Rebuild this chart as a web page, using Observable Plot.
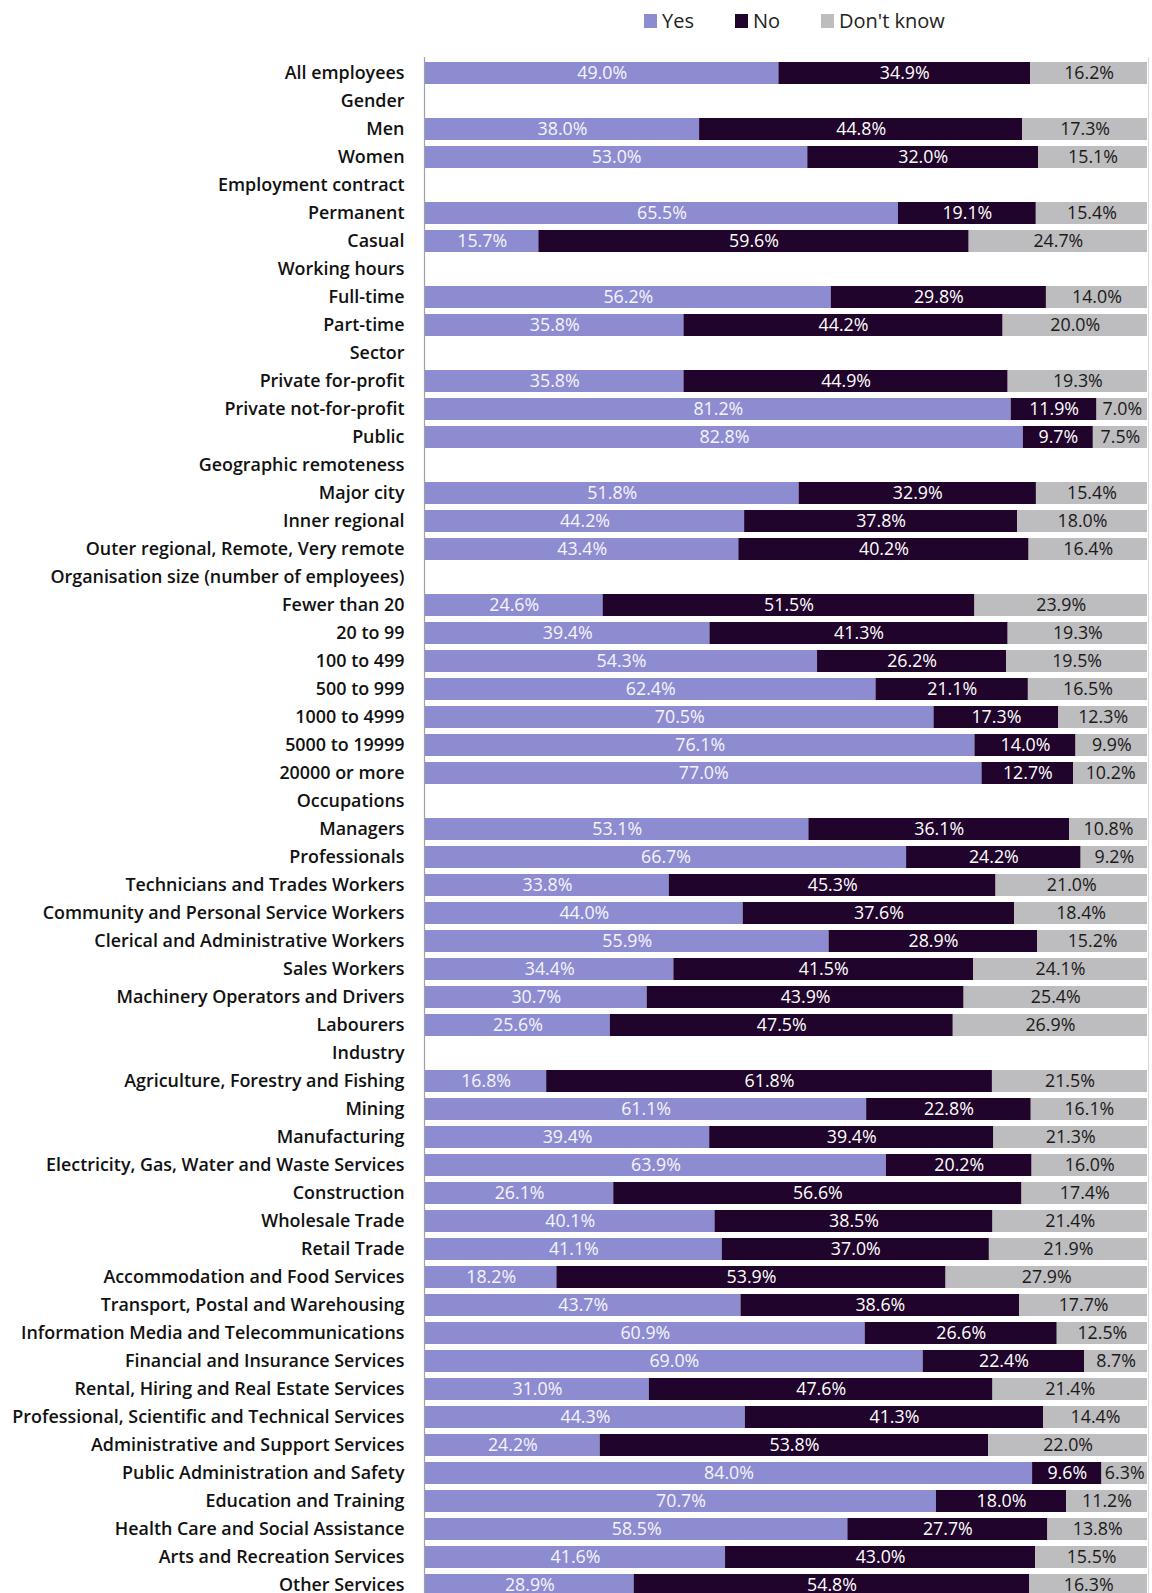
<!DOCTYPE html>
<html>
<head>
<meta charset="utf-8">
<script src="https://cdn.jsdelivr.net/npm/d3@7"></script>
<script src="https://cdn.jsdelivr.net/npm/@observablehq/plot@0.6"></script>
<style>
  html, body { margin: 0; padding: 0; background: #fff; }
  #wrap { width: 1152px; height: 1593px; overflow: hidden; position: relative; }
  #legend { height: 41px; position: relative; font-family: "Open Sans", sans-serif; font-size: 20px; color: #222; }
  .lgi { position: absolute; top: 0; height: 41px; display: inline-flex; align-items: center; white-space: nowrap; }
  .lgi span.sw { display: inline-block; width: 13px; height: 14px; margin-right: 5px; }
</style>
</head>
<body>
<div id="wrap">
  <div id="legend"></div>
  <div id="chart"></div>
</div>
<script>
const categories = [
  "All employees", "Gender", "Men", "Women", "Employment contract", "Permanent", "Casual",
  "Working hours", "Full-time", "Part-time", "Sector", "Private for-profit", "Private not-for-profit", "Public",
  "Geographic remoteness", "Major city", "Inner regional", "Outer regional, Remote, Very remote",
  "Organisation size (number of employees)", "Fewer than 20", "20 to 99", "100 to 499", "500 to 999",
  "1000 to 4999", "5000 to 19999", "20000 or more",
  "Occupations", "Managers", "Professionals", "Technicians and Trades Workers",
  "Community and Personal Service Workers", "Clerical and Administrative Workers", "Sales Workers",
  "Machinery Operators and Drivers", "Labourers",
  "Industry", "Agriculture, Forestry and Fishing", "Mining", "Manufacturing",
  "Electricity, Gas, Water and Waste Services", "Construction", "Wholesale Trade", "Retail Trade",
  "Accommodation and Food Services", "Transport, Postal and Warehousing",
  "Information Media and Telecommunications", "Financial and Insurance Services",
  "Rental, Hiring and Real Estate Services", "Professional, Scientific and Technical Services",
  "Administrative and Support Services", "Public Administration and Safety", "Education and Training",
  "Health Care and Social Assistance", "Arts and Recreation Services", "Other Services"
];
// null = section heading (no bar)
const yes = [
  49.0, null, 38.0, 53.0, null, 65.5, 15.7,
  null, 56.2, 35.8, null, 35.8, 81.2, 82.8,
  null, 51.8, 44.2, 43.4,
  null, 24.6, 39.4, 54.3, 62.4, 70.5, 76.1, 77.0,
  null, 53.1, 66.7, 33.8, 44.0, 55.9, 34.4, 30.7, 25.6,
  null, 16.8, 61.1, 39.4, 63.9, 26.1, 40.1, 41.1, 18.2, 43.7, 60.9, 69.0, 31.0, 44.3, 24.2, 84.0, 70.7, 58.5, 41.6, 28.9
];
const no = [
  34.9, null, 44.8, 32.0, null, 19.1, 59.6,
  null, 29.8, 44.2, null, 44.9, 11.9, 9.7,
  null, 32.9, 37.8, 40.2,
  null, 51.5, 41.3, 26.2, 21.1, 17.3, 14.0, 12.7,
  null, 36.1, 24.2, 45.3, 37.6, 28.9, 41.5, 43.9, 47.5,
  null, 61.8, 22.8, 39.4, 20.2, 56.6, 38.5, 37.0, 53.9, 38.6, 26.6, 22.4, 47.6, 41.3, 53.8, 9.6, 18.0, 27.7, 43.0, 54.8
];
const dontKnow = [
  16.2, null, 17.3, 15.1, null, 15.4, 24.7,
  null, 14.0, 20.0, null, 19.3, 7.0, 7.5,
  null, 15.4, 18.0, 16.4,
  null, 23.9, 19.3, 19.5, 16.5, 12.3, 9.9, 10.2,
  null, 10.8, 9.2, 21.0, 18.4, 15.2, 24.1, 25.4, 26.9,
  null, 21.5, 16.1, 21.3, 16.0, 17.4, 21.4, 21.9, 27.9, 17.7, 12.5, 8.7, 21.4, 14.4, 22.0, 6.3, 11.2, 13.8, 15.5, 16.3
];
const seriesNames = ["Yes", "No", "Don't know"];
const seriesColors = ["#8e8cd1", "#21042b", "#bdbcbe"];
const labelColors = ["#f4f4fb", "#ffffff", "#1a1a1a"];

const seriesValues = [yes, no, dontKnow];
const table = [];
categories.forEach((c, i) => {
  seriesValues.forEach((arr, s) => {
    if (arr[i] != null) table.push({category: c, series: seriesNames[s], value: arr[i], si: s});
  });
});

// legend
const lg = document.getElementById("legend");
const legendLeft = [644, 735, 821];
seriesNames.forEach((n, i) => {
  const item = document.createElement("span");
  item.className = "lgi";
  item.style.left = legendLeft[i] + "px";
  item.innerHTML = `<span class="sw" style="background:${seriesColors[i]}"></span>${n}`;
  lg.appendChild(item);
});

const step = 28, pad = 0.23, top0 = 20.5;
const chart = Plot.plot({
  width: 1152,
  height: 1552,
  marginLeft: 424,
  marginRight: 4,
  marginTop: 16,
  marginBottom: 0,
  style: {fontFamily: "'Open Sans', sans-serif", fontSize: "17.9px", fontWeight: 600, color: "#111", background: "#fff"},
  x: {domain: [0, 1], range: [425, 1147], axis: null},
  y: {type: "band", domain: categories, range: [top0, top0 + step * (categories.length - pad)],
      paddingInner: pad, paddingOuter: 0, align: 0, tickSize: 0, tickPadding: 20, label: null},
  color: {domain: seriesNames, range: seriesColors},
  marks: [
    Plot.ruleX([0], {dx: -1, stroke: "#a0a0a0", strokeWidth: 1.2}),
    Plot.ruleX([1], {dx: 1, stroke: "#d9d9d9", strokeWidth: 1}),
    Plot.barX(table, Plot.stackX({x: "value", y: "category", fill: "series", offset: "normalize", order: null})),
    Plot.text(table, Plot.stackX({
      x: "value", y: "category", z: "series", offset: "normalize", order: null,
      text: d => d.value.toFixed(1) + "%",
      fill: d => labelColors[d.si],
      fontFamily: "'Open Sans', sans-serif",
      fontWeight: 400,
      fontSize: 17.8
    }))
  ]
});
document.getElementById("chart").appendChild(chart);
</script>
</body>
</html>
